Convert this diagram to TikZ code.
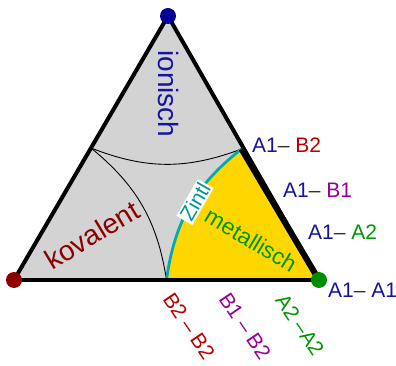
\documentclass[tikz,border=0pt]{standalone}
\usepackage{fontspec}
\setmainfont{Liberation Sans}
\definecolor{navy}{RGB}{20,20,160}
\definecolor{bred}{RGB}{185,0,0}
\definecolor{dred}{RGB}{140,0,0}
\definecolor{bpurple}{RGB}{150,0,150}
\definecolor{bgreen}{RGB}{0,150,0}
\definecolor{dotgreen}{RGB}{0,140,0}
\definecolor{dotblue}{RGB}{0,0,150}
\definecolor{teal2}{RGB}{0,170,175}
\definecolor{zinttext}{RGB}{0,150,150}
\definecolor{lgray}{RGB}{211,211,211}
\definecolor{gold2}{RGB}{255,215,0}
\definecolor{dashgray}{RGB}{50,50,50}
\begin{document}
\begin{tikzpicture}[x=1pt,y=-1pt,
  edge/.style={line width=4pt, line join=round},
  dotnode/.style={circle, inner sep=0pt, minimum size=16pt},
  lab/.style={font=\fontsize{21}{21}\selectfont, inner sep=0pt},
  region/.style={inner sep=0pt},
  arcline/.style={line width=0.9pt, black}]
\useasboundingbox (0,0) rectangle (396,366);
\coordinate (T) at (168,16);
\coordinate (L) at (14,280);
\coordinate (R) at (319,280);
\coordinate (ML) at (91,148);
\coordinate (MR) at (241.5,149);
\coordinate (MB) at (166.5,280);
% regions
\fill[lgray] (L) -- (T) -- (R) -- cycle;
\fill[gold2] (MB) to[bend left=22] (MR) -- (R) -- cycle;
% inner arcs
\draw[arcline] (ML) to[bend right=21] (MR);
\draw[arcline] (ML) to[bend left=21] (MB);
\draw[teal2, line width=2.8pt] (MB) to[bend left=22] (MR);
% edges
\draw[edge] (L) -- (T) -- (R);
\draw[edge] (L) -- (R);
\draw[line width=6pt] (MR) -- (R);
% vertex dots
\node[dotnode, fill=dotblue] (dT) at (T) {};
\node[dotnode, fill=dred] (dL) at (L) {};
\node[dotnode, fill=dotgreen] (dR) at (R) {};
% region labels
\node[region, text=navy, rotate=-90, font=\fontsize{28}{28}\selectfont] (ion) at (169,94) {ionisch};
\node[region, text=dred, rotate=31, font=\fontsize{28}{28}\selectfont] (kov) at (92,235) {kovalent};
\node[region, text=bgreen, rotate=-31, font=\fontsize{23}{23}\selectfont] (met) at (251,240) {metallisch};
\node[fill=white, text=zinttext, rotate=60, inner sep=1.5pt, font=\fontsize{21}{21}\selectfont] (zin) at (195,202) {Zintl};
% right labels
\node[lab, anchor=base west] (l1) at (252,153) {\color{navy}A1\color{dashgray}– \color{bred}B2};
\node[lab, anchor=base west] (l2) at (283,197) {\color{navy}A1\color{dashgray}– \color{bpurple}B1};
\node[lab, anchor=base west] (l3) at (308,240) {\color{navy}A1\color{dashgray}– \color{bgreen}A2};
\node[lab, anchor=base west] (l4) at (328,297) {\color{navy}A1\color{dashgray}– \color{navy}A1};
% bottom labels
\node[lab, rotate=-56, text=bred] (b1) at (189,326) {B2 – B2};
\node[lab, rotate=-56, text=bpurple] (b2) at (245,326) {B1 – B2};
\node[lab, rotate=-56, text=bgreen] (b3) at (300,325) {A2 –A2};
\end{tikzpicture}
\end{document}
